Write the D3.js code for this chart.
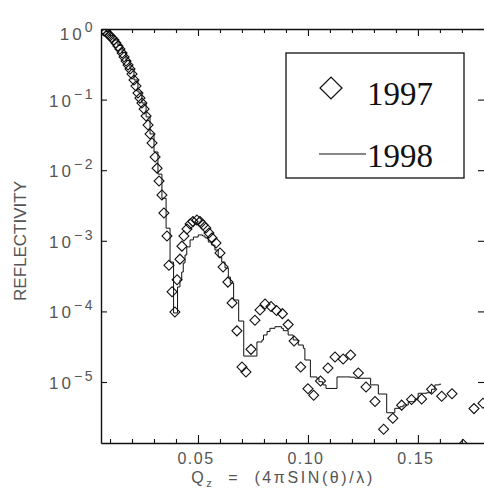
<!DOCTYPE html>
<html>
<head>
<meta charset="utf-8">
<script src="https://cdn.jsdelivr.net/npm/d3@7"></script>
<style>
  body { margin: 0; background: #fff; }
  svg { display: block; }
</style>
</head>
<body>
<div id="chart"></div>
<script>
// 1997 - ромбики
const q1997 = [0.0064, 0.0073, 0.0082, 0.0091, 0.0100, 0.0109, 0.0118, 0.0127, 0.0136, 0.0145,
  0.0155, 0.0164, 0.0173, 0.0182, 0.0191, 0.0200, 0.0209, 0.0218, 0.0227, 0.0236,
  0.0245, 0.0255, 0.0264, 0.0273, 0.0282, 0.0291, 0.0305, 0.0314, 0.0323, 0.0336,
  0.0345, 0.0359, 0.0368, 0.0382, 0.0395, 0.0405, 0.0418, 0.0427, 0.0436, 0.0450,
  0.0464, 0.0477, 0.0495, 0.0509, 0.0523, 0.0536, 0.0550, 0.0564, 0.0582, 0.0600,
  0.0614, 0.0636, 0.0655, 0.0677, 0.0700, 0.0718, 0.0741, 0.0759, 0.0782, 0.0805,
  0.0832, 0.0857, 0.0884, 0.0910, 0.0937, 0.0967, 0.1000, 0.1026, 0.1057, 0.1091,
  0.1123, 0.1160, 0.1194, 0.1229, 0.1264, 0.1305, 0.1344, 0.1386, 0.1426, 0.1471,
  0.1517, 0.1562, 0.1608, 0.1655, 0.1706, 0.1755, 0.1796];
const r1997 = [0.968, 0.937, 0.907, 0.850, 0.796, 0.746, 0.699, 0.633, 0.574, 0.521,
  0.457, 0.401, 0.352, 0.309, 0.271, 0.230, 0.190, 0.156, 0.124, 0.105,
  0.0895, 0.0736, 0.0586, 0.0437, 0.0326, 0.0243, 0.0154, 0.0107, 0.00703, 0.00445,
  0.00248, 0.00117, 4.5e-4, 1.9e-4, 9.8e-5, 2.8e-4, 5.5e-4, 8.4e-4, 1.17e-3, 1.47e-3,
  1.73e-3, 1.87e-3, 1.97e-3, 1.87e-3, 1.67e-3, 1.52e-3, 1.29e-3, 1.10e-3, 9.3e-4, 6.7e-4,
  4.25e-4, 2.6e-4, 1.32e-4, 5.3e-5, 1.63e-5, 1.39e-5, 2.9e-5, 7.5e-5, 1.05e-4, 1.27e-4,
  1.17e-4, 1.03e-4, 9.3e-5, 6.5e-5, 3.8e-5, 1.63e-5, 8.0e-6, 6.5e-6, 1.03e-5, 1.58e-5,
  2.26e-5, 2.12e-5, 2.41e-5, 1.34e-5, 8.5e-6, 5.3e-6, 2.14e-6, 3.06e-6, 4.7e-6, 5.65e-6,
  5.74e-6, 7.9e-6, 6.3e-6, 6.8e-6, 1.3e-6, 4.2e-6, 5.0e-6];

// 1998 - ступенчатая линия
const q1998 = [0.0064, 0.0082, 0.0100, 0.0118, 0.0136, 0.0155, 0.0173, 0.0191, 0.0209, 0.0227,
  0.0245, 0.0264, 0.0282, 0.0300, 0.0318, 0.0336, 0.0355, 0.0373, 0.0389, 0.0407,
  0.0418, 0.0426, 0.0433, 0.0441, 0.0449, 0.0464, 0.0479, 0.0501, 0.0521, 0.0532,
  0.0547, 0.0562, 0.0577, 0.0592, 0.0608, 0.0623, 0.0638, 0.0647, 0.0662, 0.0685,
  0.0708, 0.0768, 0.0791, 0.0798, 0.0814, 0.0827, 0.0850, 0.0880, 0.0888, 0.0910,
  0.0933, 0.0956, 0.0979, 0.0986, 0.1011, 0.1040, 0.1050, 0.1067, 0.1082, 0.1132,
  0.1191, 0.1214, 0.1285, 0.1320, 0.1358, 0.1395, 0.1418, 0.1433, 0.1456, 0.1486,
  0.1501, 0.1540, 0.1562, 0.1577, 0.1597, 0.1605];
const r1998 = [0.984, 0.922, 0.809, 0.699, 0.584, 0.465, 0.358, 0.271, 0.190, 0.128,
  0.0895, 0.0568, 0.0326, 0.0181, 0.0088, 0.0040, 0.00151, 5.0e-4, 9.5e-5, 2.22e-4,
  2.79e-4, 3.61e-4, 4.85e-4, 6.3e-4, 8.2e-4, 1.03e-3, 1.13e-3, 1.21e-3, 1.17e-3, 1.10e-3,
  9.6e-4, 8.7e-4, 7.4e-4, 5.9e-4, 5.0e-4, 4.12e-4, 3.07e-4, 2.52e-4, 1.45e-4, 7.3e-5,
  2.33e-5, 3.69e-5, 3.94e-5, 4.63e-5, 5.19e-5, 5.76e-5, 6.07e-5, 5.76e-5, 5.33e-5, 4.63e-5,
  3.94e-5, 3.34e-5, 3.0e-5, 2.05e-5, 1.18e-5, 1.13e-5, 1.01e-5, 9.1e-6, 8.1e-6, 1.18e-5,
  1.17e-5, 1.13e-5, 9.1e-6, 6.76e-6, 3.67e-6, 4.24e-6, 4.47e-6, 4.72e-6, 5.26e-6, 5.69e-6,
  6.92e-6, 7.05e-6, 7.88e-6, 9.1e-6, 9.3e-6, 9.3e-6];

const xMajorTicks = [0.05, 0.10, 0.15];
const xTickLabels = ["0.05", "0.10", "0.15"];
const xMinorTicks = [0.01, 0.02, 0.03, 0.04, 0.06, 0.07, 0.08, 0.09,
  0.11, 0.12, 0.13, 0.14, 0.16, 0.17];
const yTicks = [1, 1e-1, 1e-2, 1e-3, 1e-4, 1e-5];
const yTickExp = ["0", "\u22121", "\u22122", "\u22123", "\u22124", "\u22125"];
const legendNames = ["1997", "1998"];

const width = 484;
const height = 490;
const plot = { left: 101, right: 485, top: 29, bottom: 443 };

const x = d3.scaleLinear().domain([0.0059, 0.1805]).range([plot.left, plot.right]);
const y = d3.scaleLog().domain([Math.pow(10, -5.864), 1]).range([plot.bottom, plot.top]);

const svg = d3.select("#chart")
  .append("svg")
  .attr("width", width)
  .attr("height", height);

svg.append("defs").append("clipPath")
  .attr("id", "clip")
  .append("rect")
  .attr("x", plot.left)
  .attr("y", plot.top)
  .attr("width", plot.right - plot.left)
  .attr("height", plot.bottom - plot.top);

// оси (тики внутрь)
function styleAxis(g) {
  g.select(".domain").attr("stroke", "#111").attr("stroke-width", 1.4);
  g.selectAll(".tick line").attr("stroke", "#111").attr("stroke-width", 1.1);
}

svg.append("g")
  .attr("transform", `translate(0,${plot.bottom})`)
  .call(d3.axisBottom(x).tickValues(xMinorTicks).tickSize(-4).tickSizeOuter(0).tickFormat(""))
  .call(styleAxis);
svg.append("g")
  .attr("transform", `translate(0,${plot.bottom})`)
  .call(d3.axisBottom(x).tickValues(xMajorTicks).tickSize(-8).tickSizeOuter(0).tickFormat(""))
  .call(g => g.select(".domain").remove())
  .call(styleAxis);
svg.append("g")
  .attr("transform", `translate(0,${plot.top})`)
  .call(d3.axisTop(x).tickValues(xMinorTicks).tickSize(-4).tickSizeOuter(0).tickFormat(""))
  .call(styleAxis);
svg.append("g")
  .attr("transform", `translate(0,${plot.top})`)
  .call(d3.axisTop(x).tickValues(xMajorTicks).tickSize(-7).tickSizeOuter(0).tickFormat(""))
  .call(g => g.select(".domain").remove())
  .call(styleAxis);
svg.append("g")
  .attr("transform", `translate(${plot.left},0)`)
  .call(d3.axisLeft(y).tickValues(yTicks).tickSize(-6).tickSizeOuter(0).tickFormat(""))
  .call(styleAxis);
svg.append("g")
  .attr("transform", `translate(${plot.right},0)`)
  .call(d3.axisRight(y).tickValues(yTicks).tickSize(-7).tickSizeOuter(0).tickFormat(""))
  .call(styleAxis);

// подписи тиков
svg.append("g")
  .selectAll("text")
  .data(xMajorTicks)
  .enter()
  .append("text")
  .attr("x", d => x(d) - 2)
  .attr("y", 464)
  .attr("text-anchor", "middle")
  .style("font-family", "'Liberation Sans', Arial, sans-serif")
  .style("font-size", "16px")
  .style("letter-spacing", "1.5px")
  .style("fill", "#555")
  .text((d, i) => xTickLabels[i]);

const yLab = svg.append("g")
  .selectAll("text")
  .data(yTicks)
  .enter()
  .append("text")
  .attr("x", 95)
  .attr("y", (d, i) => y(d) + 7 + (i === 0 ? 4 : 0))
  .attr("text-anchor", "end")
  .style("font-family", "'Liberation Sans', Arial, sans-serif")
  .style("fill", "#555");
yLab.append("tspan")
  .style("font-size", "17px")
  .style("letter-spacing", "3px")
  .text("10");
yLab.append("tspan")
  .attr("dy", -8)
  .style("font-size", "14px")
  .style("letter-spacing", "2.5px")
  .text((d, i) => yTickExp[i]);

// подписи осей
svg.append("text")
  .attr("transform", "translate(26,241) rotate(-90)")
  .attr("text-anchor", "middle")
  .style("font-family", "'Liberation Sans', Arial, sans-serif")
  .style("font-size", "17px")
  .style("fill", "#555")
  .text("REFLECTIVITY");

const xLab = svg.append("text")
  .attr("x", 283)
  .attr("y", 483)
  .attr("text-anchor", "middle")
  .style("font-family", "'Liberation Sans', Arial, sans-serif")
  .style("font-size", "16px")
  .style("letter-spacing", "2.6px")
  .style("fill", "#555");
xLab.append("tspan").text("Q");
xLab.append("tspan").attr("dy", 4).style("font-size", "11px").text("z");
xLab.append("tspan").attr("dy", -4).attr("xml:space", "preserve").text("  =  (4\u03c0SIN(\u03b8)/\u03bb)");

// данные
const plotArea = svg.append("g").attr("clip-path", "url(#clip)");

const data1998 = q1998.map((q, i) => [q, r1998[i]]);
const data1997 = q1997.map((q, i) => [q, r1997[i]]);

plotArea.append("path")
  .datum(data1998)
  .attr("fill", "none")
  .attr("stroke", "#111")
  .attr("stroke-width", 1)
  .attr("d", d3.line()
    .x(d => x(d[0]))
    .y(d => y(d[1]))
    .curve(d3.curveStepAfter));

const diamond = d3.symbol(d3.symbolSquare, 50);
plotArea.selectAll(".pt")
  .data(data1997)
  .enter()
  .append("path")
  .attr("class", "pt")
  .attr("d", diamond)
  .attr("transform", d => `translate(${x(d[0])},${y(d[1])}) rotate(45)`)
  .attr("fill", "none")
  .attr("stroke", "#111")
  .attr("stroke-width", 1.1);

// легенда
const legend = svg.append("g");
legend.append("rect")
  .attr("x", 286)
  .attr("y", 53)
  .attr("width", 178)
  .attr("height", 125)
  .attr("fill", "#fff")
  .attr("stroke", "#111")
  .attr("stroke-width", 1.3);
legend.append("path")
  .attr("d", d3.symbol(d3.symbolSquare, 240))
  .attr("transform", "translate(331,88) rotate(45)")
  .attr("fill", "none")
  .attr("stroke", "#111")
  .attr("stroke-width", 1.3);
legend.append("line")
  .attr("x1", 319).attr("x2", 366)
  .attr("y1", 154).attr("y2", 154)
  .attr("stroke", "#111")
  .attr("stroke-width", 1.2);
legend.selectAll(".lt")
  .data(legendNames)
  .enter()
  .append("text")
  .attr("class", "lt")
  .attr("x", 367)
  .attr("y", (d, i) => i === 0 ? 105 : 167)
  .style("font-family", "'Liberation Serif', 'Times New Roman', serif")
  .style("font-size", "33px")
  .style("fill", "#111")
  .text(d => d);
</script>
</body>
</html>
